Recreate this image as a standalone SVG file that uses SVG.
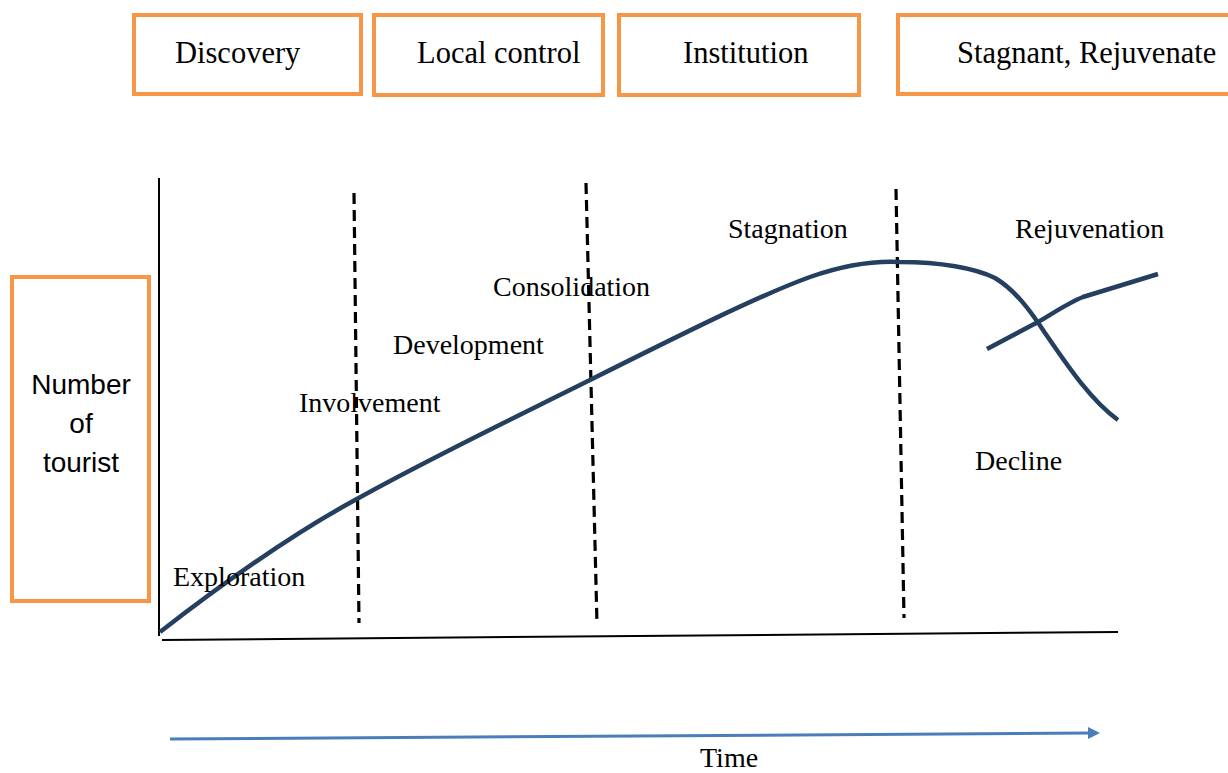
<svg xmlns="http://www.w3.org/2000/svg" width="1228" height="773" viewBox="0 0 1228 773">
<style>
.box{fill:#fff;stroke:#F79646;stroke-width:4}
.hdr{font-family:"Liberation Serif",serif;font-size:30.5px;fill:#000}
.lbl{font-family:"Liberation Serif",serif;font-size:28px;fill:#000}
.ax{font-family:"Liberation Sans",Arial,sans-serif;font-size:28px;fill:#000;text-anchor:middle}
.dash{stroke:#000;stroke-width:3.2;stroke-dasharray:11,6;fill:none}
.curve{stroke:#243F60;stroke-width:4.5;fill:none;stroke-linecap:butt}
</style>
<defs>
<marker id="ah" markerWidth="12" markerHeight="12" refX="2" refY="6" orient="auto" markerUnits="userSpaceOnUse">
<path d="M0,0 L12,6 L0,12 Z" fill="#4A7EBB"/>
</marker>
</defs>
<rect width="1228" height="773" fill="#fff"/>
<g id="discovery"><rect class="box" x="134" y="15" width="227" height="79"/><text class="hdr" x="175" y="63">Discovery</text></g>
<g id="local-control"><rect class="box" x="374" y="15" width="229" height="80"/><text class="hdr" x="417" y="63">Local control</text></g>
<g id="institution"><rect class="box" x="619" y="15" width="240" height="80"/><text class="hdr" x="683" y="63">Institution</text></g>
<g id="stagnant"><rect class="box" x="898" y="15" width="340" height="79"/><text class="hdr" x="957" y="63">Stagnant, Rejuvenate</text></g>
<g id="y-label"><rect class="box" x="12" y="277" width="137" height="324"/>
<text class="ax" x="81" y="394">Number</text><text class="ax" x="81" y="433">of</text><text class="ax" x="81" y="472">tourist</text></g>
<g id="axes">
<line x1="159" y1="178" x2="159" y2="636" stroke="#000" stroke-width="2"/>
<line x1="162" y1="640" x2="1118" y2="632" stroke="#000" stroke-width="2"/>
</g>
<g id="dividers">
<line class="dash" x1="354" y1="193" x2="359" y2="623"/>
<line class="dash" x1="586" y1="183" x2="597" y2="624"/>
<line class="dash" x1="896" y1="189" x2="904" y2="618"/>
</g>
<g id="connectors">
<path class="curve" d="M160,632 C240,570 300,530 355,500 C430,458 520,415 590,380 C680,335 760,295 810,277 C850,263 880,261 900,262 C940,262 975,268 995,278 C1015,290 1030,310 1045,333 C1065,362 1090,400 1118,420"/>
<path class="curve" d="M987,349 L1038,322 C1055,312 1070,302 1083,297 L1158,274"/>
<line x1="170" y1="739" x2="1090" y2="733" stroke="#4A7EBB" stroke-width="3" marker-end="url(#ah)"/>
</g>
<g id="labels">
<text class="lbl" x="173" y="586">Exploration</text>
<text class="lbl" x="299" y="412">Involvement</text>
<text class="lbl" x="393" y="354">Development</text>
<text class="lbl" x="493" y="296">Consolidation</text>
<text class="lbl" x="728" y="238">Stagnation</text>
<text class="lbl" x="1015" y="238">Rejuvenation</text>
<text class="lbl" x="975" y="470">Decline</text>
<text class="lbl" x="700" y="767" font-size="25">Time</text>
</g>
</svg>
